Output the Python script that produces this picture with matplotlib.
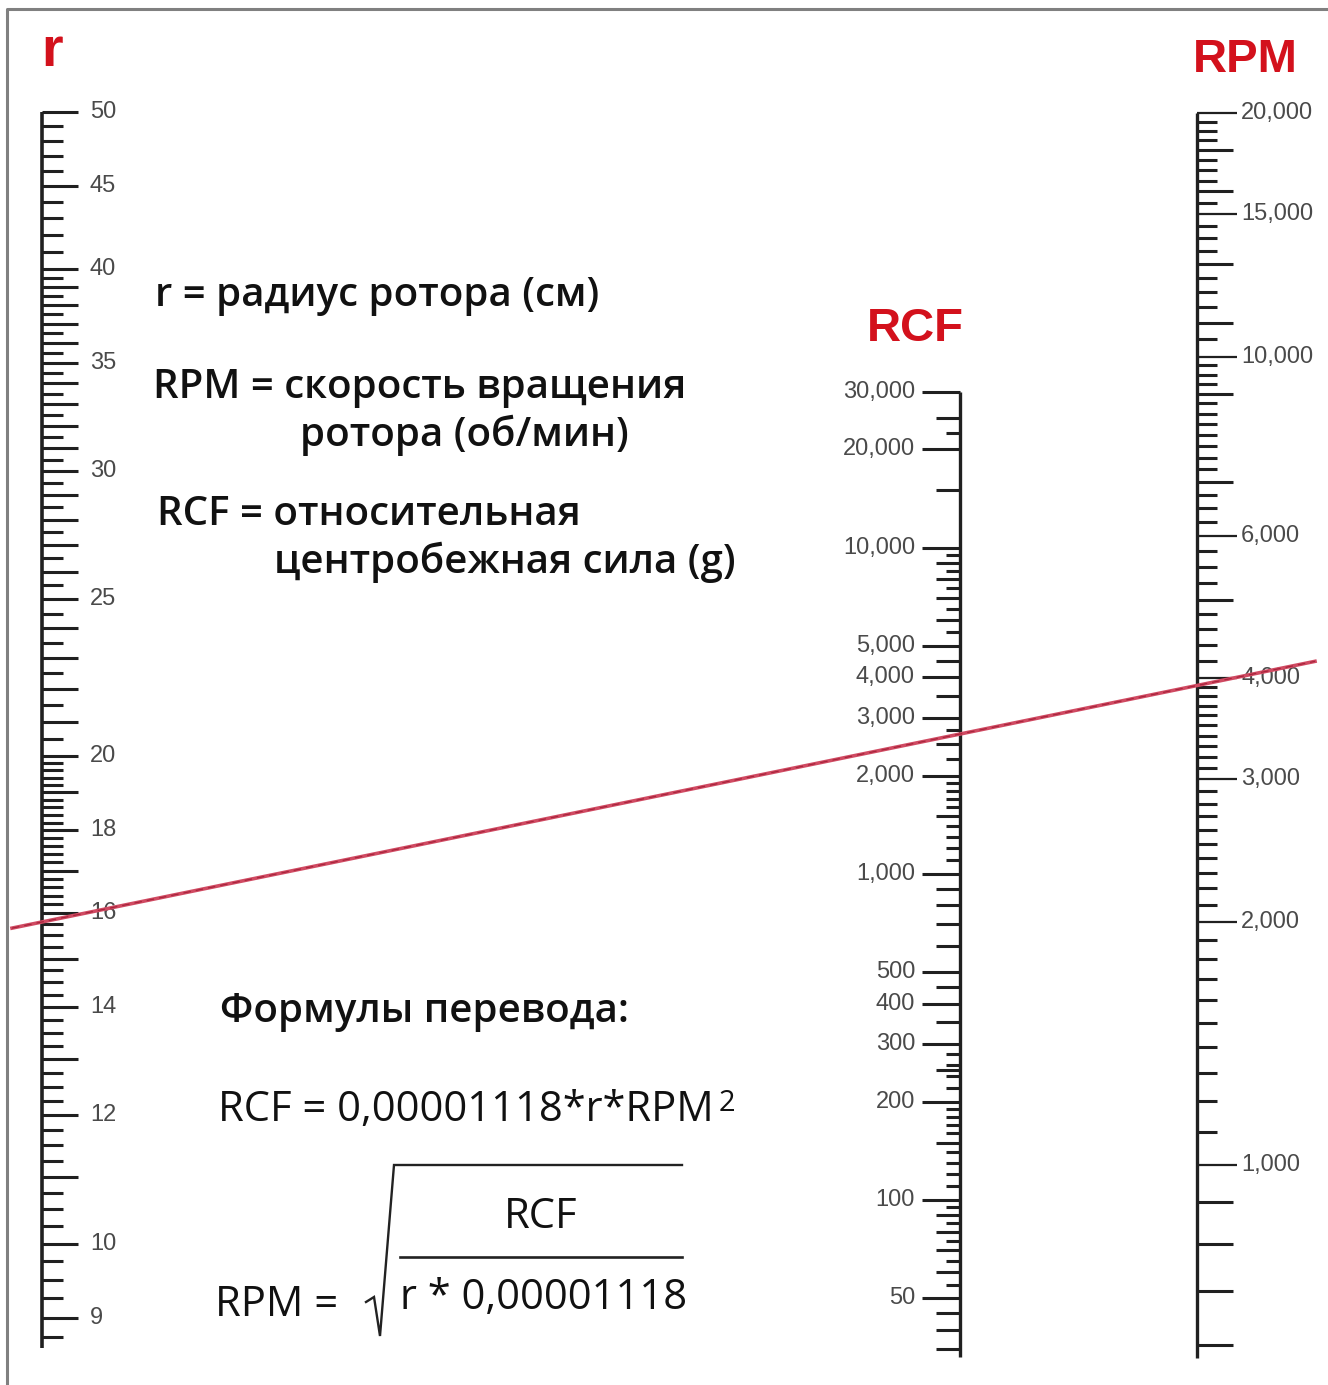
import numpy as np
import matplotlib
matplotlib.use("Agg")
import matplotlib.pyplot as plt

# ==========================
# SCALE DATA
# ==========================

# r scale (rotor radius, cm)
r_labels = [50, 45, 40, 35, 30, 25, 20, 18, 16, 14, 12, 10, 9]
r_medium = [39, 38, 37, 36, 34, 33, 32, 31, 29, 28, 27, 26, 24, 23, 22, 21,
            19, 17, 15, 13, 11]
r_minor = ([49, 48, 47, 46, 44, 43, 42, 41]
           + list(np.arange(20.5, 40, 1.0))
           + [v for v in np.arange(16.2, 20, 0.2) if abs(v - round(v)) > 0.05]
           + [v for v in np.arange(8.75, 16, 0.25) if abs(v - round(v)) > 0.05])
r_lim = (8.62, 50)

# RCF scale (g)
rcf_labels = [30000, 20000, 10000, 5000, 4000, 3000, 2000, 1000,
              500, 400, 300, 200, 100, 50]
rcf_medium = [25000, 15000, 9000, 8000, 7000, 6000, 4500, 3500, 2500, 1500,
              900, 800, 700, 600, 450, 350, 250, 150, 90, 80, 70, 60, 45, 40, 35]
rcf_minor = ([22500, 9500, 8500, 7500, 6500, 5500, 2750, 2250]
             + [1900, 1800, 1700, 1600, 1400, 1300, 1200, 1100]
             + [280, 260, 240, 220]
             + [190, 180, 170, 160, 140, 130, 120, 110]
             + [95, 85, 75, 65, 55])
rcf_lim = (33, 30000)

# RPM scale (rev/min)
rpm_labels = [20000, 15000, 10000, 6000, 4000, 3000, 2000, 1000]
rpm_medium = [18000, 16000, 13000, 11000, 9000, 7000, 5000, 900, 800, 700, 600]
rpm_minor = ([19500, 19000, 18500, 17500, 17000, 16500, 15500]
             + [14500, 14000, 13500, 12500, 12000, 11500, 10500]
             + [9750, 9500, 9250, 8750, 8500, 8250, 8000, 7750, 7500, 7250,
                6750, 6500, 6250]
             + [5750, 5500, 5250, 4800, 4600, 4400, 4200]
             + list(range(3100, 4000, 100)) + list(range(2100, 3000, 100))
             + list(range(1100, 2000, 100)))
rpm_lim = (578, 20000)

# example reading drawn in red
example_r = 15.8
example_rpm = 3920

# ==========================
# FIGURE
# ==========================

W, H = 1328, 1385
fig = plt.figure(figsize=(W / 100, H / 100), dpi=100)
fig.patch.set_facecolor("white")

ax0 = fig.add_axes([0, 0, 1, 1])
ax0.set_xlim(0, W)
ax0.set_ylim(H, 0)
ax0.axis("off")
ax0.patch.set_alpha(0)
ax0.set_zorder(3)

LABEL_FONT = "Liberation Sans"
TEXT_FONT = "Open Sans"
TICK_C = "#202020"
LAB_C = "#4a4a4a"
RED = "#d3111c"


def make_scale(left_px, top_px, bottom_px, lim):
    ax = fig.add_axes([left_px / W, 1 - bottom_px / H, 40 / W,
                       (bottom_px - top_px) / H])
    ax.set_yscale("log")
    ax.set_ylim(*lim)
    ax.set_xlim(0, 40)
    ax.axis("off")
    ax.patch.set_alpha(0)
    return ax


def ticks(ax, vals, x0, x1, lw=2.2):
    ax.hlines(vals, x0, x1, colors=TICK_C, lw=lw, clip_on=False)


def fmt(v):
    return f"{v:,}"


# r scale: line on the left, ticks to the right
ax_r = make_scale(42, 112, 1348, r_lim)
ax_r.vlines(0, *r_lim, colors=TICK_C, lw=2.6, clip_on=False)
ticks(ax_r, r_labels, 0, 36)
ticks(ax_r, r_medium, 0, 36)
ticks(ax_r, r_minor, 0, 21)
for v in r_labels:
    ax_r.text(48, v, str(v), ha="left", va="center", fontsize=17,
              color=LAB_C, family=LABEL_FONT)

# RCF scale: line on the right, ticks to the left
ax_c = make_scale(920, 392, 1357, rcf_lim)
ax_c.vlines(40, *rcf_lim, colors=TICK_C, lw=2.4, clip_on=False)
ticks(ax_c, rcf_labels, 2, 40)
ticks(ax_c, rcf_medium, 16, 40)
ticks(ax_c, rcf_minor, 26, 40)
for v in rcf_labels:
    ax_c.text(-5, v, fmt(v), ha="right", va="center", fontsize=17,
              color=LAB_C, family=LABEL_FONT)

# RPM scale: line on the left, ticks to the right
ax_p = make_scale(1197, 113, 1358, rpm_lim)
ax_p.vlines(0, *rpm_lim, colors=TICK_C, lw=2.4, clip_on=False)
ticks(ax_p, rpm_labels, 0, 40, lw=1.6)
ticks(ax_p, rpm_medium, 0, 36)
ticks(ax_p, rpm_minor, 0, 20)
for v in rpm_labels:
    ax_p.text(44, v, fmt(v), ha="left", va="center", fontsize=17,
              color=LAB_C, family=LABEL_FONT)

# ==========================
# EXAMPLE LINE
# ==========================

to_px = ax0.transData.inverted()
p1 = to_px.transform(ax_r.transData.transform((0, example_r)))
p2 = to_px.transform(ax_p.transData.transform((0, example_rpm)))
slope = (p2[1] - p1[1]) / (p2[0] - p1[0])
xs = np.array([12, 1315])
ax0.plot(xs, p1[1] + slope * (xs - p1[0]), color="#d04a62", lw=2.6)
ax0.plot(xs, p1[1] + slope * (xs - p1[0]), color="#a8243c", lw=0.9,
         ls=(0, (6, 4)))

# ==========================
# TITLES AND TEXT
# ==========================

ax0.text(52, 52, "r", ha="center", va="center", fontsize=40,
         weight="bold", color=RED, family=LABEL_FONT)
ax0.text(1245, 60, "RPM", ha="center", va="center", fontsize=34,
         weight="bold", color=RED, family=LABEL_FONT)
ax0.text(915, 329, "RCF", ha="center", va="center", fontsize=34,
         weight="bold", color=RED, family=LABEL_FONT)

kw = dict(fontsize=29, weight="semibold", color="#111111", family=TEXT_FONT,
          va="center", ha="left")
ax0.text(155, 296, "r = радиус ротора (см)", **kw)
ax0.text(153, 388, "RPM = скорость вращения", **kw)
ax0.text(300, 435, "ротора (об/мин)", **kw)
ax0.text(157, 515, "RCF = относительная", **kw)
ax0.text(274, 562, "центробежная сила (g)", **kw)
ax0.text(220, 1012, "Формулы перевода:", **kw)

kw2 = dict(kw, weight="medium", fontsize=30)
t = ax0.text(218, 1110, "RCF = 0,00001118*r*RPM", **kw2)
ax0.annotate("2", xy=(1.01, 1.0), xycoords=t, ha="left", va="top",
             fontsize=21, weight="medium", color="#111111", family=TEXT_FONT)
ax0.text(215, 1305, "RPM =", **kw2)
ax0.text(541, 1217, "RCF", **dict(kw2, ha="center"))
ax0.text(400, 1298, "r * 0,00001118", **kw2)

# radical sign and fraction bar
ax0.plot([366, 374, 380, 394, 682], [1302, 1297, 1336, 1165, 1165],
         color="#222222", lw=1.7, solid_joinstyle="miter")
ax0.plot([400, 682], [1257, 1257], color="#222222", lw=1.9)

# frame
ax0.plot([7, 7, W], [H, 9, 9], color="#808080", lw=2.2)

fig.savefig("out.png", dpi=100)
